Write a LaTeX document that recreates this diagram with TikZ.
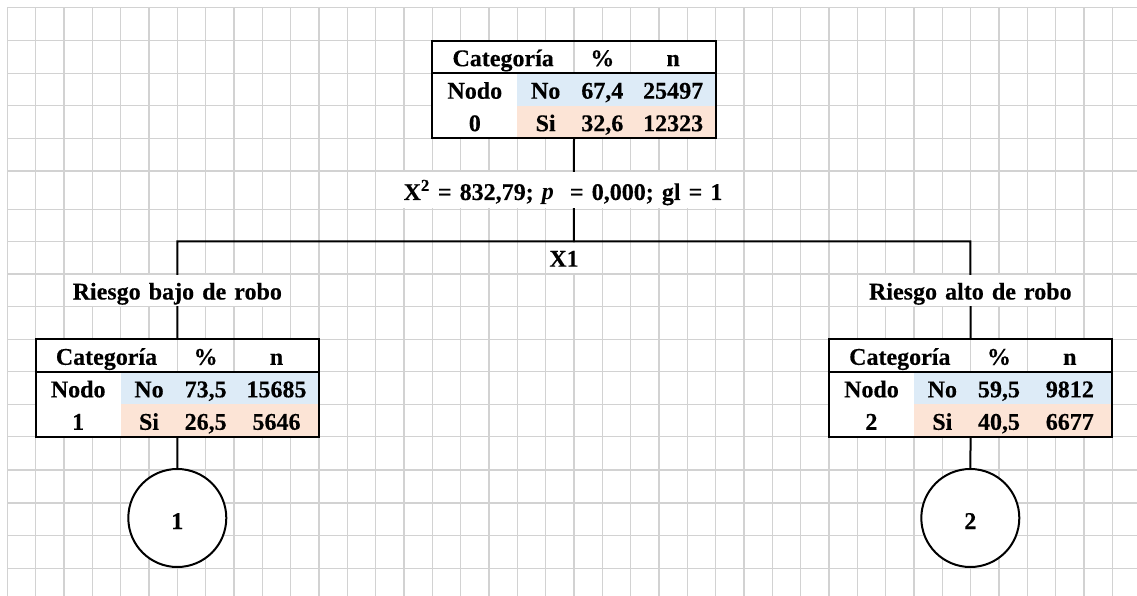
\documentclass[tikz,border=0pt]{standalone}
\usepackage{fontspec}
\setmainfont{Liberation Serif}[WordSpace=1.35, BoldFeatures={FakeBold=0.3}]
\usetikzlibrary{calc}
\definecolor{gridgray}{RGB}{210,210,210}
\definecolor{noblue}{HTML}{DDEBF7}
\definecolor{sipeach}{HTML}{FCE4D6}
\pgfdeclarelayer{gridlayer}
\pgfdeclarelayer{connlayer}
\pgfdeclarelayer{masklayer}
\pgfsetlayers{gridlayer,connlayer,masklayer,main}
\tikzset{
  gridline/.style={draw=gridgray, line width=1.2pt},
  border/.style={draw=black, line width=2pt},
  conn/.style={draw=black, line width=2pt},
  tablebox/.style={rectangle, draw=black, line width=2pt, minimum width=283.33pt, minimum height=97.5pt, inner sep=0pt, outer sep=0pt},
  txt/.style={font=\fontsize{24}{28}\selectfont\bfseries, inner sep=0pt, anchor=base},
  endnode/.style={circle, draw=black, line width=2pt, fill=white, minimum size=98pt, inner sep=0pt},
  mask/.style={fill=white}
}
\newcommand\dtable[8]{%
  \begin{pgfonlayer}{masklayer}
  \begin{scope}[shift={(#2,#3)}]
    \fill[white] (0,0) rectangle (283.33,32.5);
    \fill[white] (0,32.5) rectangle (85,97.5);
    \fill[noblue] (85,32.5) rectangle (283.33,65);
    \fill[sipeach] (85,65) rectangle (283.33,97.5);
    \draw[gridline] (141.67,0) -- (141.67,32.5) (198.33,0) -- (198.33,32.5);
  \end{scope}
  \end{pgfonlayer}
  \node[tablebox, anchor=north west] (#1) at (#2,#3) {};
  \draw[border] ([yshift=-32.5pt]#1.north west) -- ([yshift=-32.5pt]#1.north east);
  \begin{scope}[shift={(#2,#3)}]
    \node[txt] (#1-cat) at (70.83,25.5) {Categoría};
    \node[txt] (#1-pct) at (170,25.5) {\%};
    \node[txt] (#1-n) at (240.83,25.5) {n};
    \node[txt] (#1-nodo) at (42.5,58) {Nodo};
    \node[txt] (#1-num) at (42.5,90.5) {#4};
    \node[txt] (#1-no) at (113.33,58) {No};
    \node[txt] (#1-nop) at (170,58) {#5};
    \node[txt] (#1-non) at (240.83,58) {#6};
    \node[txt] (#1-si) at (113.33,90.5) {Si};
    \node[txt] (#1-sip) at (170,90.5) {#7};
    \node[txt] (#1-sin) at (240.83,90.5) {#8};
  \end{scope}
}
\begin{document}
\begin{tikzpicture}[x=1pt, y=-1pt]
\useasboundingbox (0,0) rectangle (1137,596);
\begin{pgfonlayer}{gridlayer}
  \fill[white] (0,0) rectangle (1137,596);
  \foreach \k in {0,...,39} \draw[gridline] ({7.33+28.333*\k},7.3) -- ({7.33+28.333*\k},596);
  \foreach \y in {7.3,40.7,73.2,105.7,138.2,171,209.3,241.3,274,306.7,339.3,371.8,404.3,436.8,470,503,535.5,568.5}
    \draw[gridline] (7.33,\y) -- (1137,\y);
\end{pgfonlayer}

% tables
\dtable{t0}{432.33}{40.7}{0}{67,4}{25497}{32,6}{12323}
\dtable{t1}{35.67}{339.3}{1}{73,5}{15685}{26,5}{5646}
\dtable{t2}{828.97}{339.3}{2}{59,5}{9812}{40,5}{6677}

% text rows
\begin{pgfonlayer}{masklayer}
  \fill[mask] (396,171.9) rectangle (732,208.4);
  \fill[mask] (548,242.6) rectangle (581,273.1);
  \fill[mask] (64.5,274.9) rectangle (289,305.8);
  \fill[mask] (860,274.9) rectangle (1080,305.8);
\end{pgfonlayer}
\node[txt] (chi) at (563,200) {X\textsuperscript{2} = 832,79; \textit{p}\ \ = 0,000; gl = 1};
\node[txt] (x1) at (564,266.7) {X1};
\node[txt] (low) at (177.3,299.5) {Riesgo bajo de robo};
\node[txt] (high) at (970.3,299.5) {Riesgo alto de robo};

% terminal nodes
\node[endnode] (c1) at (177.3,518) {};
\node[endnode] (c2) at (970.3,518) {};
\node[txt] (c1-label) at (177.3,529) {1};
\node[txt] (c2-label) at (970.3,529) {2};

% connectors
\coordinate (split) at (573.83,241.3);
\coordinate (bl) at (177.3,241.3);
\coordinate (br) at (970.3,241.3);
\begin{pgfonlayer}{connlayer}
  \draw[conn] (t0.south) -- (split);
  \draw[conn] (t1.north) -- (bl) -- (br) -- (t2.north);
  \draw[conn] (t1.south) -- (c1.north);
  \draw[conn] (t2.south) -- (c2.north);
\end{pgfonlayer}
\end{tikzpicture}
\end{document}
